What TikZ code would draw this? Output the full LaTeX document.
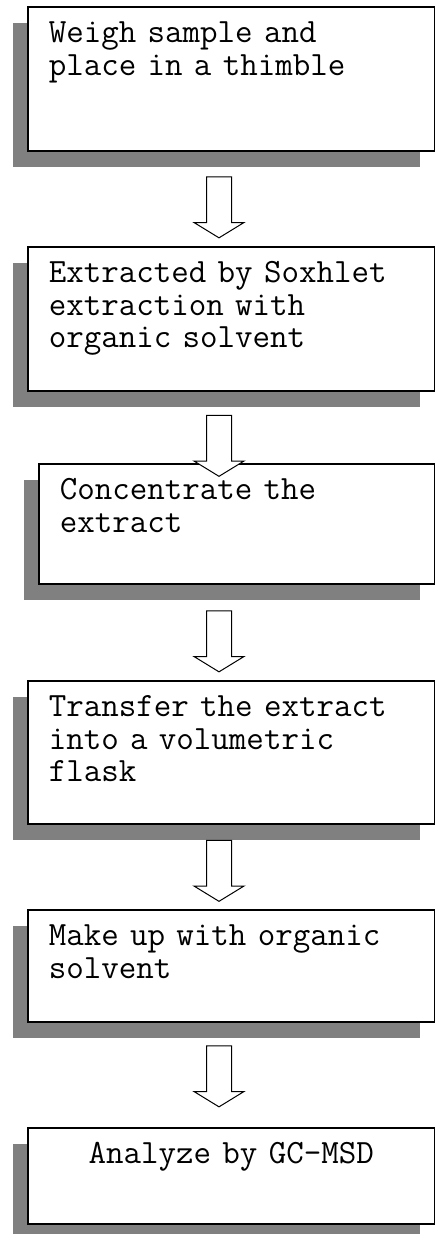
\documentclass[tikz,border=0pt]{standalone}
\usepackage{fontspec}
\usepackage{tikz}
\usetikzlibrary{shadows}
\usetikzlibrary{shapes.arrows}
\newcommand{\boxfont}{\ttfamily\fontsize{34}{32.5}\selectfont\hyphenpenalty=10000\exhyphenpenalty=10000}
\tikzset{stepbox/.style = {draw, line width=1.5pt, fill=white, anchor=north west,
        inner xsep=21pt, inner ysep=0pt, text height=36pt, align=left, font=\boxfont,
        drop shadow={shadow xshift=-15pt, shadow yshift=-16pt, fill=gray, opacity=1}}}
\tikzset{downarrow/.style = {shape=single arrow, draw, fill=white, line width=1pt,
        rotate=-90, minimum height=61pt, inner xsep=0pt, inner ysep=12pt,
        single arrow head extend=12.5pt, single arrow tip angle=117}}

\begin{document}
\begin{tikzpicture}[x=1pt,y=-1pt]
                \useasboundingbox (0,0) rectangle (435,1234);

                \node[stepbox, text width=365pt, text depth=108pt] (weigh) at (27,6)
                        {Weigh sample and place in a thimble};
                \node[stepbox, text width=365pt, text depth=108pt] (soxhlet) at (27,246)
                        {Extracted by Soxhlet extraction with organic solvent};
                \node[stepbox, text width=354pt, text depth=84pt] (conc) at (38,463)
                        {Concentrate the extract};
                \node[stepbox, text width=365pt, text depth=107pt] (transfer) at (27,680)
                        {Transfer the extract into a volumetric flask};
                \node[stepbox, text width=365pt, text depth=76pt] (makeup) at (27,909)
                        {Make up with organic solvent};
                \node[stepbox, text width=365pt, text depth=60pt, align=center] (analyze) at (27,1127)
                        {Analyze by GC-MSD};

                \node[downarrow] (a1) at (219,203.5) {};
                \node[downarrow] (a2) at (219,442) {};
                \node[downarrow] (a3) at (219,637.5) {};
                \node[downarrow] (a4) at (219,867) {};
                \node[downarrow] (a5) at (219,1072.5) {};
            \end{tikzpicture}
\end{document}
